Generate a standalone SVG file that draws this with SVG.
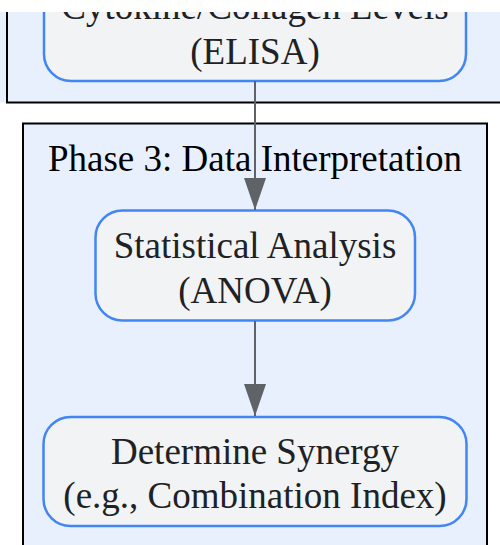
<svg xmlns="http://www.w3.org/2000/svg" width="500" height="545" viewBox="0 0 500 545">
  <defs>
    <style>
      .cluster { fill: #e8f0fe; stroke: #000000; stroke-width: 2; }
      .node rect { fill: #f1f3f4; stroke: #4285f4; stroke-width: 2.5; }
      .node text { font-family: "Liberation Serif", "Times New Roman", serif; font-size: 37px; fill: #202124; text-anchor: middle; }
      .title { font-family: "Liberation Serif", "Times New Roman", serif; font-size: 37px; fill: #000000; text-anchor: middle; }
      .edge { stroke: #5f6368; stroke-width: 2; fill: none; }
    </style>
    <marker id="arrow" markerUnits="userSpaceOnUse" markerWidth="32" markerHeight="22" refX="32" refY="11" orient="auto" viewBox="0 0 32 22">
      <polygon points="0,0 32,11 0,22" fill="#5f6368"/>
    </marker>
    <clipPath id="crop">
      <rect x="0" y="12" width="500" height="533"/>
    </clipPath>
  </defs>
  <rect x="0" y="0" width="500" height="545" fill="#ffffff"/>
  <g clip-path="url(#crop)">
    <g id="cluster_phase2">
      <rect x="0" y="-40" width="520" height="142.5" fill="#e8f0fe" stroke="none"/>
      <path d="M7,0 V102.5 H500" fill="none" stroke="#000000" stroke-width="2"/>
    </g>
    <g id="cluster_phase3">
      <rect class="cluster" x="23" y="123.5" width="464" height="440"/>
      <text class="title" x="255" y="171">Phase 3: Data Interpretation</text>
    </g>
    <g id="node_elisa" class="node">
      <rect x="44" y="-29" width="422" height="110" rx="27" ry="27"/>
      <text x="255" y="18.5">Cytokine/Collagen Levels</text>
      <text x="255" y="63.5">(ELISA)</text>
    </g>
    <g id="node_anova" class="node">
      <rect x="95.5" y="210.5" width="319.5" height="110" rx="27" ry="27"/>
      <text x="255" y="258">Statistical Analysis</text>
      <text x="255" y="303">(ANOVA)</text>
    </g>
    <g id="node_synergy" class="node">
      <rect x="43.5" y="417" width="423" height="109" rx="27" ry="27"/>
      <text x="255" y="463.5">Determine Synergy</text>
      <text x="255" y="508">(e.g., Combination Index)</text>
    </g>
    <g id="edges">
      <line class="edge" x1="255" y1="81" x2="255" y2="210" marker-end="url(#arrow)"/>
      <line class="edge" x1="255" y1="321" x2="255" y2="416" marker-end="url(#arrow)"/>
    </g>
  </g>
</svg>
